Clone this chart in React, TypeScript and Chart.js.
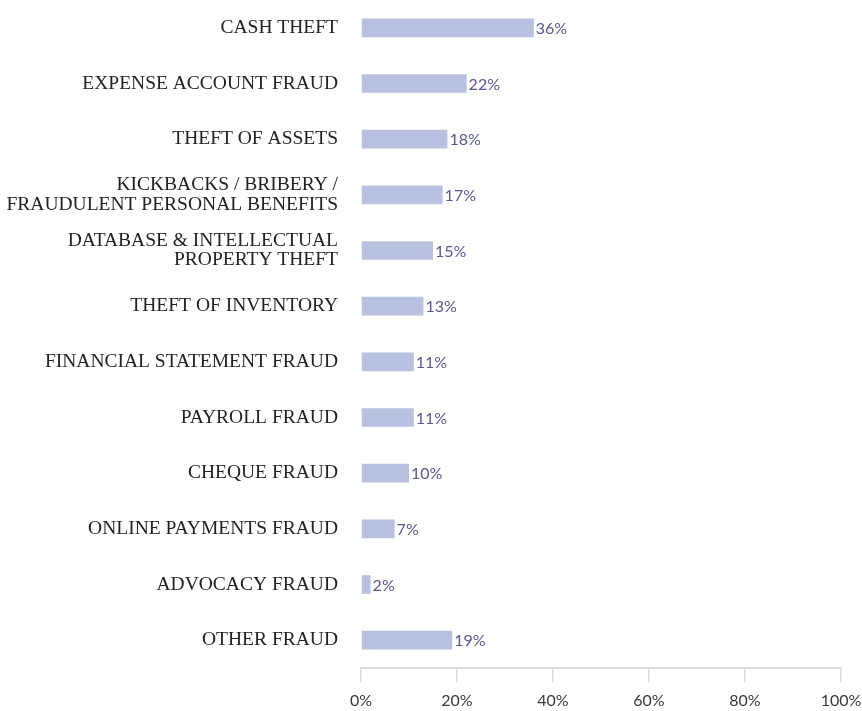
import React, { useEffect, useRef } from "react";
import { Chart, registerables } from "chart.js";

Chart.register(...registerables);

const categories: (string | string[])[] = [
  "CASH THEFT",
  "EXPENSE ACCOUNT FRAUD",
  "THEFT OF ASSETS",
  ["KICKBACKS / BRIBERY /", "FRAUDULENT PERSONAL BENEFITS"],
  ["DATABASE & INTELLECTUAL", "PROPERTY THEFT"],
  "THEFT OF INVENTORY",
  "FINANCIAL STATEMENT FRAUD",
  "PAYROLL FRAUD",
  "CHEQUE FRAUD",
  "ONLINE PAYMENTS FRAUD",
  "ADVOCACY FRAUD",
  "OTHER FRAUD",
];

const values: number[] = [36, 22, 18, 17, 15, 13, 11, 11, 10, 7, 2, 19];

const xTicks: number[] = [0, 20, 40, 60, 80, 100];

const BAR_COLOR = "#b8c1df";
const VALUE_COLOR = "#58588c";
const AXIS_COLOR = "#dcdcd6";

const valueLabels = {
  id: "valueLabels",
  afterDatasetsDraw(chart: any) {
    const ctx = chart.ctx;
    const meta = chart.getDatasetMeta(0);
    ctx.save();
    ctx.font = "400 16px Lato, 'Open Sans', sans-serif";
    ctx.fillStyle = VALUE_COLOR;
    ctx.textAlign = "left";
    ctx.textBaseline = "middle";
    meta.data.forEach((el: any, i: number) => {
      ctx.fillText(values[i] + "%", el.x + 2, el.y + 1);
    });
    ctx.restore();
  },
};

export default function App() {
  const ref = useRef<HTMLCanvasElement>(null);

  useEffect(() => {
    if (!ref.current) return;
    const chart = new Chart(ref.current, {
      type: "bar",
      data: {
        labels: categories,
        datasets: [
          {
            data: values,
            backgroundColor: BAR_COLOR,
            borderWidth: 0,
            barPercentage: 0.335,
            categoryPercentage: 1,
          },
        ],
      },
      options: {
        indexAxis: "y",
        animation: false,
        responsive: true,
        maintainAspectRatio: false,
        layout: { padding: { top: 0, right: 21, bottom: 0, left: 0 } },
        plugins: {
          legend: { display: false },
          tooltip: { enabled: false },
        },
        scales: {
          x: {
            min: 0,
            max: 100,
            afterBuildTicks: (scale: any) => {
              scale.ticks = xTicks.map((v) => ({ value: v }));
            },
            afterFit: (scale: any) => {
              scale.height = 43;
              scale.paddingLeft = 0;
              scale.paddingRight = 0;
            },
            ticks: {
              callback: (v: any) => v + "%",
              color: "#3a3a3a",
              font: { family: "Lato, 'Open Sans', sans-serif", size: 16, weight: "400" },
              padding: 9,
              maxRotation: 0,
            },
            grid: {
              display: true,
              drawOnChartArea: false,
              drawTicks: true,
              tickLength: 14,
              color: AXIS_COLOR,
              lineWidth: 1.5,
            },
            border: { display: true, color: AXIS_COLOR, width: 2 },
          },
          y: {
            afterFit: (scale: any) => {
              scale.width = 361;
              scale.paddingTop = 0;
              scale.paddingBottom = 0;
            },
            ticks: {
              color: "#222222",
              font: { family: "'Liberation Serif', serif", size: 19.5, lineHeight: 1.0 },
              padding: 23,
            },
            grid: { display: false, drawTicks: false },
            border: { display: false },
          },
        },
      },
      plugins: [valueLabels],
    });
    return () => chart.destroy();
  }, []);

  return (
    <div style={{ position: "fixed", left: 0, top: 0, width: 862, height: 711, background: "#ffffff" }}>
      <canvas ref={ref} />
    </div>
  );
}
